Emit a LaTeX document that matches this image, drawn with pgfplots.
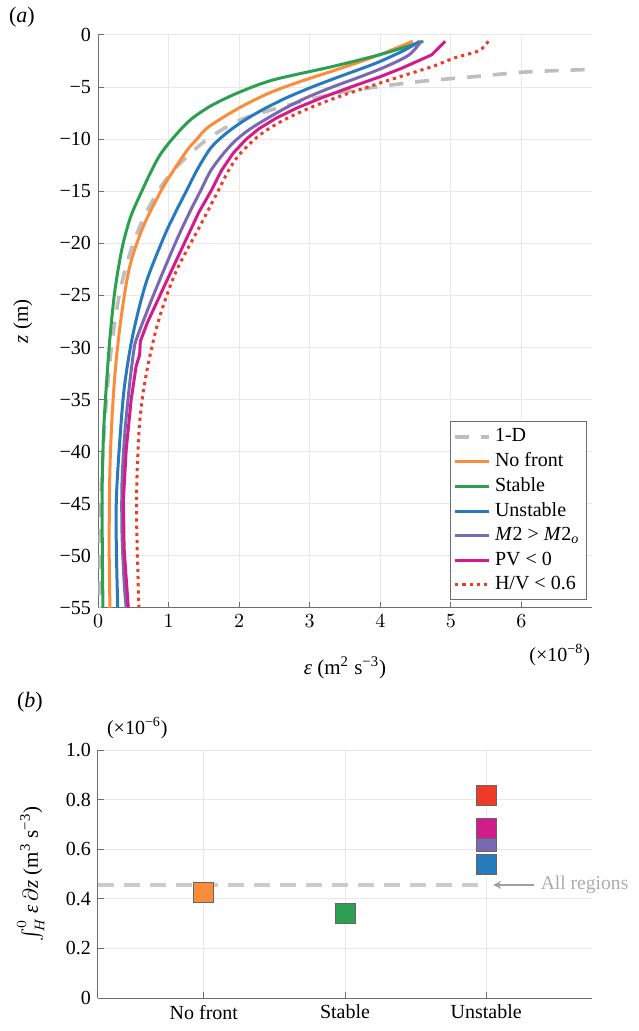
\documentclass[border=0pt]{standalone}
\usepackage{fontspec}
\setmainfont{Liberation Serif}
\usepackage{pgfplots}
\pgfplotsset{compat=1.18}

\definecolor{cOrange}{RGB}{250,140,60}
\definecolor{cGreen}{RGB}{44,160,80}
\definecolor{cBlue}{RGB}{40,122,190}
\definecolor{cPurple}{RGB}{120,105,178}
\definecolor{cMag}{RGB}{210,28,140}
\definecolor{cRed}{RGB}{240,58,40}
\definecolor{cGrayD}{RGB}{190,190,190}
\definecolor{cGrid}{RGB}{232,232,232}
\definecolor{cAxis}{RGB}{110,110,110}

\pgfplotsset{
  common/.style={
    scale only axis,
    axis x line*=bottom, axis y line*=left,
    axis line style={-, cAxis, line width=0.5pt},
    tick align=inside, major tick length=3pt,
    tick style={cAxis, line width=0.5pt},
    grid=major, grid style={cGrid, line width=0.5pt},
    tick label style={font=\fontsize{10}{12}\selectfont},
    label style={font=\fontsize{10.5}{12}\selectfont},
  }
}

\begin{document}
\begin{tikzpicture}[font=\fontsize{10}{12}\selectfont]
\begin{axis}[common,
  at={(0,0)}, anchor=south west,
  width=247pt, height=286.5pt,
  xmin=0, xmax=7, ymin=-55, ymax=0,
  xtick={0,1,2,3,4,5,6},
  ytick={-55,-50,-45,-40,-35,-30,-25,-20,-15,-10,-5,0},
  yticklabels={−55,−50,−45,−40,−35,−30,−25,−20,−15,−10,−5,0},
  xlabel={{\itshape ε} (m\textsuperscript{2} s\textsuperscript{−3})},
  ylabel={\textit{z} (m)},
  xlabel style={at={(axis description cs:0.5,-0.105)}, anchor=center},
  ylabel style={at={(axis description cs:-0.152,0.5)}, anchor=center},
  legend style={at={(rel axis cs:1,0)}, anchor=south east, xshift=-2.5pt, yshift=4pt,
    draw=cAxis, line width=0.5pt, font=\fontsize{10}{12}\selectfont,
    inner sep=1.5pt, row sep=0pt, fill=white},
  legend cell align=left,
  legend image code/.code={\draw[#1] (0pt,0pt) -- (17pt,0pt);},
]
\addplot[cGrayD, line width=1.8pt, dash pattern=on 7pt off 6pt, smooth] coordinates {
(8.0,-3.1) (7.0,-3.3) (6.07,-3.55) (5.33,-4.0) (4.58,-4.45) (3.94,-5.0) (3.44,-5.5)
(2.94,-6.3) (2.45,-7.2) (2.0,-8.2) (1.55,-10) (1.15,-12.4) (0.90,-14.5) (0.65,-17.5)
(0.45,-21) (0.30,-25) (0.19,-30) (0.12,-35) (0.07,-40) (0.04,-45) (0.03,-50) (0.03,-55)};
\addlegendentry{1-D}
\addplot[cOrange, line width=1.5pt, smooth] coordinates {
(4.46,-0.6) (3.99,-1.9) (3.44,-3.2) (2.94,-4.3) (2.45,-5.5) (2.0,-7) (1.57,-8.8)
(1.40,-10) (1.27,-11) (1.07,-13) (0.89,-15) (0.64,-18.4) (0.45,-22.2) (0.33,-27)
(0.25,-31.8) (0.20,-36.6) (0.17,-41.4) (0.16,-46) (0.16,-51) (0.17,-55)};
\addlegendentry{No front}
\addplot[cGreen, line width=1.5pt, smooth] coordinates {
(4.61,-0.6) (4.04,-1.8) (3.34,-3.0) (2.49,-4.3) (2.0,-5.5) (1.60,-6.8) (1.30,-8.2)
(1.05,-10) (0.88,-11.5) (0.76,-13) (0.62,-15) (0.46,-17.5) (0.34,-20.5) (0.24,-24.5)
(0.17,-29) (0.12,-33.5) (0.08,-38) (0.06,-43) (0.06,-48) (0.07,-55)};
\addlegendentry{Stable}
\addplot[cBlue, line width=1.5pt, smooth] coordinates {
(4.56,-0.6) (4.33,-1.5) (3.94,-2.7) (3.42,-4) (3.03,-5) (2.68,-6) (2.38,-7)
(2.12,-8) (1.90,-9) (1.72,-10) (1.58,-11) (1.40,-13) (1.25,-15) (1.10,-17)
(0.94,-19.3) (0.68,-23.8) (0.49,-28.9) (0.37,-34) (0.30,-39.8) (0.26,-44.6)
(0.26,-49.3) (0.28,-55)};
\addlegendentry{Unstable}
\addplot[cPurple, line width=1.5pt, smooth] coordinates {
(4.58,-0.6) (4.41,-1.9) (4.09,-3) (3.72,-4) (3.32,-5) (2.96,-6) (2.66,-7)
(2.40,-8) (2.16,-9) (1.97,-10) (1.80,-11.2) (1.60,-13) (1.45,-15) (1.30,-17)
(1.12,-19.6) (0.82,-24.4) (0.56,-28.9) (0.51,-30.2) (0.45,-33.4) (0.38,-38.2)
(0.34,-43) (0.34,-47.8) (0.37,-52.5) (0.40,-55)};
\addlegendentry{\textit{M}2 > \textit{M}2\textsubscript{\textit{o}}}
\addplot[cMag, line width=1.5pt] coordinates {
(4.92,-0.6) (4.73,-1.9) (4.50,-2.6) (4.30,-3.2) (4.0,-4) (3.58,-5) (3.18,-6)
(2.82,-7) (2.52,-8) (2.28,-9) (2.10,-10) (1.92,-11.3) (1.75,-13) (1.60,-15)
(1.43,-17) (1.25,-19.6) (0.96,-23.8) (0.70,-27.6) (0.60,-29.4) (0.59,-30.7)
(0.54,-31.8) (0.47,-35) (0.40,-39.8) (0.36,-44.6) (0.37,-49.3) (0.43,-55)};
\addlegendentry{PV < 0}
\addplot[cRed, line width=1.5pt, dash pattern=on 1.6pt off 2pt, smooth] coordinates {
(5.53,-0.6) (5.40,-1.5) (5.05,-2.2) (4.75,-3) (4.28,-4) (3.82,-5) (3.38,-6)
(3.0,-7) (2.68,-8) (2.42,-9) (2.22,-10) (2.0,-11.5) (1.85,-13) (1.70,-15)
(1.44,-18.4) (1.10,-22.8) (0.85,-27.6) (0.68,-32.7) (0.59,-37.2) (0.55,-43)
(0.55,-47.7) (0.58,-55)};
\addlegendentry{H/V < 0.6}
\end{axis}

\begin{axis}[common,
  at={(0,-195pt)}, anchor=south west,
  width=247pt, height=124pt,
  xmin=0.25, xmax=3.75, ymin=0, ymax=1,
  xtick={1,2,3}, xticklabels={No front,Stable,Unstable},
  ytick={0,0.2,0.4,0.6,0.8,1}, yticklabels={0,0.2,0.4,0.6,0.8,1.0},
  ylabel={$\int_{H}^{0}$\,{\itshape ε}\,$\partial${\itshape z} (m\textsuperscript{3} s\textsuperscript{−3})},
  ylabel style={at={(axis description cs:-0.136,0.5)}, anchor=center},
  clip=false,
]
\addplot[cGrayD!80!white, line width=2pt, dash pattern=on 8pt off 5pt] coordinates {(0.25,0.456) (2.97,0.456)};
\draw[->, >=stealth, color=gray!75, line width=0.8pt] (axis cs:3.34,0.456) -- (axis cs:3.05,0.456);
\node[anchor=west, text=gray!65, font=\fontsize{9.8}{12}\selectfont, inner sep=1pt] at (axis cs:3.37,0.456) {All regions};
\addplot[only marks, mark=square*, mark size=5pt, mark options={fill=cOrange, draw=black!60, line width=0.4pt}] coordinates {(1,0.427)};
\addplot[only marks, mark=square*, mark size=5pt, mark options={fill=cGreen, draw=black!60, line width=0.4pt}] coordinates {(2,0.340)};
\addplot[only marks, mark=square*, mark size=5pt, mark options={fill=cBlue, draw=black!60, line width=0.4pt}] coordinates {(3,0.540)};
\addplot[only marks, mark=square*, mark size=5pt, mark options={fill=cPurple, draw=black!60, line width=0.4pt}] coordinates {(3,0.631)};
\addplot[only marks, mark=square*, mark size=5pt, mark options={fill=cMag, draw=black!60, line width=0.4pt}] coordinates {(3,0.684)};
\addplot[only marks, mark=square*, mark size=5pt, mark options={fill=cRed, draw=black!60, line width=0.4pt}] coordinates {(3,0.817)};
\end{axis}

\node at (-38pt,295.5pt) {\fontsize{11}{13}\selectfont(\textit{a})};
\node at (-34pt,-47pt) {\fontsize{11}{13}\selectfont(\textit{b})};
\node[anchor=east] at (249.5pt,-23.5pt) {(×10\textsuperscript{−8})};
\node[anchor=west] at (1pt,-60pt) {(×10\textsuperscript{−6})};

\pgfresetboundingbox
\path (-49pt,-211.5pt) rectangle (270pt,304pt);
\end{tikzpicture}
\end{document}
